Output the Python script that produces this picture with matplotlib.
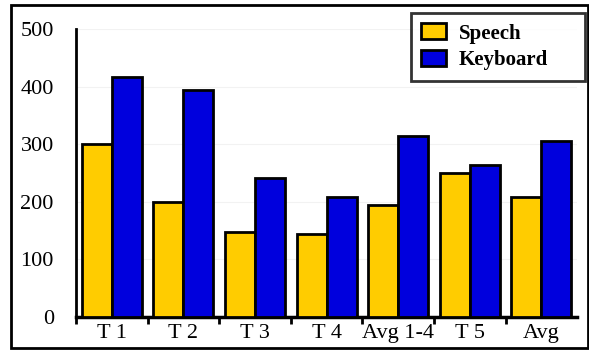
import numpy as np
import matplotlib
matplotlib.use('Agg')
import matplotlib.pyplot as plt
from matplotlib.patches import Rectangle

# Tiempos por tarea para cada modo de entrada
categorias = ['T 1', 'T 2', 'T 3', 'T 4', 'Avg 1-4', 'T 5', 'Avg']
speech = [300, 200, 148, 144, 194, 250, 208]
keyboard = [417, 394, 241, 208, 314, 264, 306]

plt.rcParams['font.family'] = ['Liberation Serif', 'DejaVu Serif']

fig = plt.figure(figsize=(5.89, 3.51), dpi=100)
ax = fig.add_axes([0.129, 0.097, 0.851, 0.82])

x = np.arange(len(categorias))
w = 0.42
ax.bar(x, speech, width=-w, align='edge', color='#FFCC00',
       edgecolor='black', linewidth=2, label='Speech', zorder=3)
ax.bar(x, keyboard, width=w, align='edge', color='#0000DD',
       edgecolor='black', linewidth=2, label='Keyboard', zorder=3)

ax.set_xlim(-0.5, len(categorias) - 0.5)
ax.set_ylim(0, 500)
ax.set_yticks(range(0, 501, 100))
ax.yaxis.grid(True, color='#f2f2f2', linewidth=0.8, zorder=0)

# etiquetas centradas, marcas entre grupos
ax.set_xticks(x)
ax.set_xticklabels(categorias)
ax.set_xticks(np.arange(-0.5, len(categorias) - 0.5, 1), minor=True)
ax.tick_params(axis='x', which='major', length=0, pad=5, labelsize=16)
ax.tick_params(axis='x', which='minor', length=5, width=2, direction='out')
ax.tick_params(axis='y', length=0, pad=16, labelsize=16)

for s in ['top', 'right']:
    ax.spines[s].set_visible(False)
ax.spines['left'].set_linewidth(2)
ax.spines['bottom'].set_linewidth(2.5)

leg = ax.legend(loc='upper left',
                bbox_to_anchor=(411 / 589, 1 - 78 / 351, 174 / 589, 65 / 351),
                bbox_transform=fig.transFigure, mode='expand',
                borderaxespad=0, prop={'weight': 'bold', 'size': 15},
                frameon=True, fancybox=False, edgecolor='black',
                handlelength=1.2, handleheight=0.8, handletextpad=0.6,
                borderpad=0.5, labelspacing=0.3)
leg.get_frame().set_linewidth(2)

# marco exterior
fig.patches.append(Rectangle((0.019, 0.008), 0.979, 0.978,
                             transform=fig.transFigure, fill=False,
                             edgecolor='black', linewidth=2))

fig.savefig('out.png', dpi=100)
